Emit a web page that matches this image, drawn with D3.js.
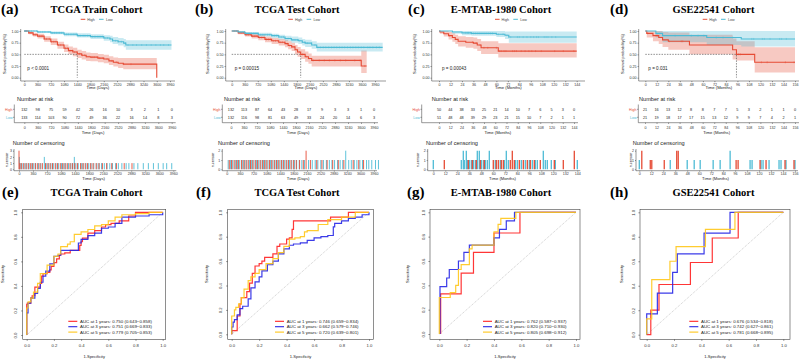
<!DOCTYPE html>
<html>
<head>
<meta charset="utf-8">
<script src="https://cdn.jsdelivr.net/npm/d3@7"></script>
<style>
  body { margin: 0; background: #fff; }
  svg { display: block; font-family: "Liberation Sans", Arial, sans-serif; }
  .ttl { font-family: "Liberation Serif", "Times New Roman", serif; font-weight: bold; }
</style>
</head>
<body>
<svg id="fig" width="800" height="361"></svg>
<script>
// ---- tick labels ----
var dayTicks = [0, 360, 720, 1080, 1440, 1800, 2160, 2520, 2880, 3240, 3600, 3960];
var month144Ticks = [0, 12, 24, 36, 48, 60, 72, 84, 96, 108, 120, 132, 144];
var month156Ticks = [0, 12, 24, 36, 48, 60, 72, 84, 96, 108, 120, 132, 144, 156];

// ---- KM curves: [time, survival, lower, upper] ----
var trainHigh = [[0,1,1,1],[120,.96,.93,.99],[240,.92,.88,.96],[360,.89,.84,.94],[540,.83,.77,.89],[720,.77,.70,.84],[900,.70,.62,.77],[1080,.63,.55,.71],[1200,.58,.50,.67],[1320,.55,.46,.64],[1440,.51,.42,.60],[1560,.48,.39,.57],[1680,.45,.36,.54],[1800,.44,.35,.53],[2000,.42,.33,.51],[2160,.40,.31,.49],[2300,.36,.27,.46],[2420,.33,.24,.43],[2550,.31,.21,.42],[2690,.29,.18,.42],[3600,0,0,0]];
var trainLow = [[0,1,1,1],[360,.98,.96,1],[720,.96,.93,.99],[1080,.93,.89,.97],[1440,.90,.86,.95],[1800,.88,.83,.93],[2160,.85,.79,.91],[2330,.83,.76,.90],[2400,.79,.72,.87],[2550,.77,.69,.85],[2700,.74,.65,.83],[2760,.70,.60,.80],[4000,.70,.60,.80]];
var testHigh = [[0,1,1,1],[180,.96,.93,.99],[367,.92,.88,.96],[550,.89,.84,.94],[735,.86,.80,.91],[920,.82,.76,.88],[1104,.79,.72,.85],[1300,.76,.69,.83],[1472,.73,.65,.81],[1560,.69,.61,.78],[1657,.66,.57,.75],[1750,.60,.50,.70],[1820,.55,.45,.66],[1906,.50,.40,.61],[2030,.45,.34,.56],[2120,.41,.30,.52],[2210,.37,.24,.47],[3580,.25,.10,.58],[3730,.25,.10,.58]];
var testLow = [[0,1,1,1],[180,.98,.96,1],[367,.95,.92,.98],[735,.92,.88,.96],[1104,.90,.85,.94],[1300,.87,.82,.92],[1472,.84,.78,.90],[1650,.81,.75,.88],[1840,.79,.72,.86],[1950,.76,.69,.83],[2030,.74,.66,.81],[2210,.70,.62,.78],[2350,.65,.56,.75],[4172,.65,.56,.75]];
var emtabHigh = [[0,1,1,1],[1,.98,.94,1],[5,.94,.88,1],[10,.90,.82,.98],[14,.86,.77,.95],[17,.82,.72,.92],[20,.78,.67,.89],[28,.76,.64,.87],[36,.74,.62,.86],[40,.70,.57,.83],[44,.64,.51,.78],[62,.57,.43,.74],[144,.57,.43,.74]];
var emtabLow = [[0,1,1,1],[14,.98,.94,1],[24,.96,.91,1],[34,.95,.90,1],[60,.93,.87,1],[69,.91,.83,.99],[73,.87,.75,.99],[144,.87,.75,.99]];
var gseHigh = [[0,1,1,1],[1.5,.95,.86,1],[8,.90,.78,1],[14,.86,.72,1],[18,.81,.66,.98],[24,.78,.60,.97],[46,.70,.50,.92],[91,.60,.39,.84],[95,.50,.37,.78],[114,.33,.11,.65],[156,.33,.11,.65]];
var gseLow = [[0,1,1,1],[11,.95,.86,1],[18,.90,.76,1],[64,.86,.70,1],[100,.83,.67,1],[156,.83,.67,1]];

// ---- numbers at risk ----
var trainRiskHigh = [132, 98, 75, 59, 42, 26, 16, 10, 3, 2, 1, 0];
var trainRiskLow = [133, 114, 103, 90, 72, 49, 36, 22, 16, 14, 8, 3];
var testRiskHigh = [132, 113, 87, 64, 43, 28, 17, 9, 3, 3, 1, 0];
var testRiskLow = [132, 116, 98, 81, 63, 49, 33, 24, 20, 14, 6, 3];
var emtabRiskHigh = [50, 44, 38, 33, 25, 21, 14, 10, 7, 6, 5, 3, 0];
var emtabRiskLow = [51, 48, 48, 39, 29, 23, 21, 15, 10, 7, 2, 1, 1];
var gseRiskHigh = [21, 16, 13, 12, 8, 8, 7, 7, 5, 3, 2, 1, 1, 0];
var gseRiskLow = [21, 19, 18, 17, 17, 15, 13, 12, 9, 9, 7, 4, 2, 1];

// ---- censoring: [time, n.censor] ----
var trainCensHigh = [[0,3],[20,1],[60,1],[120,1],[180,1],[240,1],[300,1],[350,1],[420,1],[480,1],[540,1],[600,1],[680,1],[740,1],[800,1],[860,1],[930,1],[990,1],[1060,1],[1120,1],[1180,1],[1240,1],[1310,1],[1370,1],[1430,1],[1500,1],[1580,1],[1640,1],[1700,1],[1760,1],[1840,1],[1900,1],[1980,1],[2050,1],[2140,1],[2250,1],[2380,1],[2500,1],[2700,1],[2900,1]];
var trainCensLow = [[10,2],[30,1],[80,1],[150,1],[200,1],[260,1],[330,1],[380,1],[430,1],[500,1],[560,1],[650,2],[700,1],[760,1],[820,1],[880,1],[950,1],[1010,1],[1090,1],[1150,1],[1200,1],[1270,1],[1330,1],[1380,1],[1420,2],[1460,1],[1520,1],[1600,1],[1650,1],[1720,1],[1790,1],[1850,1],[1920,1],[2000,1],[2060,1],[2120,1],[2190,1],[2260,1],[2330,1],[2400,1],[2480,1],[2550,1],[2640,1],[2750,1],[2820,1],[2950,1],[3050,1],[3190,1],[3320,1],[3450,1],[3575,1],[3700,1],[3790,1],[3920,1]];
var testCensHigh = [[70,1],[130,1],[200,1],[260,1],[320,1],[400,1],[460,1],[520,1],[580,1],[640,1],[700,1],[770,1],[830,1],[900,1],[960,1],[1020,1],[1080,1],[1150,1],[1210,1],[1280,1],[1340,1],[1400,1],[1470,1],[1530,1],[1600,1],[1660,1],[1730,1],[1800,1],[1870,1],[1960,1],[2060,1],[2134,2],[2250,1],[2420,1],[2560,1],[2700,1],[2850,1],[3000,1],[3150,1],[3400,1],[3550,1],[3680,1]];
var testCensLow = [[40,1],[100,1],[160,1],[230,1],[290,1],[350,1],[420,1],[480,1],[540,1],[610,1],[670,1],[730,1],[800,1],[860,1],[920,1],[990,1],[1050,1],[1110,1],[1180,1],[1240,1],[1300,1],[1370,1],[1430,1],[1490,1],[1560,1],[1620,1],[1690,1],[1750,1],[1820,1],[1880,1],[1950,1],[2020,1],[2090,1],[2200,1],[2300,1],[2380,1],[2450,1],[2530,1],[2600,1],[2680,1],[2760,1],[2830,1],[2900,1],[2980,1],[3050,1],[3120,1],[3200,2],[3280,1],[3350,1],[3430,1],[3500,1],[3580,1],[3650,1],[3760,1],[3820,1],[3900,1],[4000,1],[4080,1]];
var emtabCensHigh = [[11,1],[35,1],[39,1],[43,1],[47,1],[51,1],[60,1],[63,1],[65,1],[68,1],[70,1],[77,1],[79,2],[81,1],[86,1],[90,1],[94,1],[97,1],[101,1],[107,1],[121,1],[130,1],[141,2]];
var emtabCensLow = [[0,1],[28,1],[30,2],[31,1],[33,2],[34,1],[36,1],[38,1],[40,1],[42,1],[44,2],[46,2],[48,1],[50,1],[52,1],[54,1],[56,2],[62,1],[67,1],[71,1],[73,2],[75,1],[82,1],[84,1],[88,1],[92,1],[96,1],[99,1],[102,1],[104,1],[110,2],[112,1],[114,1],[118,1],[122,1],[144,1]];
var gseCensHigh = [[2.5,2],[11,1],[12.5,1],[25,1],[37.5,2],[39,2],[97,1],[99,1],[121,1],[127,1],[146,1],[155,1]];
var gseCensLow = [[0,1],[31,1],[48,1],[55,1],[61,1],[74,1],[81,1],[91,2],[111,1],[113,1],[122,1],[124,1],[130,1],[140,1],[142,1],[147,1],[156,1]];

// ---- ROC curves: [1-specificity, sensitivity] ----
var trainRoc1 = [[0,0],[0,.08],[.005,.25],[.03,.26],[.04,.3],[.06,.32],[.07,.39],[.1,.39],[.11,.42],[.12,.48],[.15,.5],[.17,.51],[.18,.53],[.2,.56],[.22,.59],[.24,.62],[.25,.65],[.28,.66],[.32,.67],[.35,.69],[.39,.69],[.4,.73],[.41,.76],[.45,.79],[.5,.83],[.55,.85],[.58,.88],[.62,.9],[.68,.91],[.75,.93],[.8,.97],[.85,1],[1,1]];
var trainRoc3 = [[0,0],[0,.13],[.01,.18],[.03,.26],[.06,.3],[.08,.34],[.1,.38],[.12,.43],[.14,.48],[.17,.52],[.2,.58],[.23,.64],[.25,.65],[.3,.69],[.38,.69],[.4,.75],[.45,.78],[.5,.81],[.55,.83],[.6,.87],[.65,.88],[.7,.91],[.8,.96],[.9,.97],[1,.98],[1,1]];
var trainRoc5 = [[0,0],[0,.12],[.01,.22],[.03,.27],[.05,.3],[.08,.35],[.1,.42],[.12,.5],[.15,.5],[.2,.57],[.23,.64],[.25,.66],[.3,.72],[.32,.74],[.35,.76],[.4,.82],[.45,.84],[.5,.86],[.55,.89],[.6,.9],[.65,.93],[.7,.96],[.8,.98],[.9,.99],[1,1]];
var testRoc1 = [[0,0],[.01,.03],[.04,.03],[.04,.1],[.06,.15],[.07,.25],[.08,.3],[.11,.3],[.13,.35],[.15,.42],[.17,.5],[.2,.56],[.22,.58],[.24,.6],[.27,.63],[.3,.63],[.33,.66],[.35,.72],[.37,.74],[.4,.74],[.42,.78],[.44,.79],[.45,.86],[.47,.93],[.55,.93],[.72,.93],[.85,.96],[.85,1],[1,1]];
var testRoc3 = [[0,0],[0,.05],[.01,.06],[.02,.1],[.04,.12],[.06,.16],[.08,.21],[.12,.23],[.14,.29],[.17,.38],[.2,.43],[.22,.47],[.26,.52],[.3,.57],[.34,.6],[.38,.66],[.42,.7],[.45,.73],[.5,.74],[.55,.75],[.6,.77],[.65,.79],[.7,.8],[.74,.81],[.75,.88],[.8,.91],[.85,.93],[.9,.95],[.95,.96],[1,.98],[1,1]];
var testRoc5 = [[0,0],[0,.05],[.02,.15],[.03,.2],[.05,.22],[.07,.25],[.09,.3],[.12,.37],[.14,.44],[.17,.47],[.2,.5],[.25,.53],[.3,.58],[.34,.62],[.38,.67],[.42,.72],[.46,.78],[.5,.79],[.53,.8],[.55,.84],[.6,.85],[.63,.85],[.63,.88],[.7,.9],[.8,.94],[.9,.96],[1,1]];
var emtabRoc1 = [[.01,0],[.01,.33],[.16,.33],[.16,.5],[.25,.5],[.25,.67],[.4,.67],[.4,.83],[.59,.83],[.59,1],[1,1]];
var emtabRoc3 = [[.005,0],[.005,.39],[.054,.39],[.054,.46],[.073,.46],[.073,.53],[.14,.53],[.14,.6],[.18,.6],[.18,.67],[.22,.67],[.22,.73],[.4,.73],[.4,.79],[.44,.79],[.44,.86],[.49,.86],[.49,.93],[.55,.93],[.55,1],[1,1]];
var emtabRoc5 = [[0,0],[0,.3],[.08,.3],[.08,.34],[.12,.34],[.12,.4],[.14,.4],[.14,.53],[.16,.53],[.16,.57],[.22,.57],[.22,.7],[.24,.7],[.24,.73],[.4,.73],[.4,.84],[.43,.84],[.43,.9],[.45,.9],[.45,.95],[.56,.95],[.56,1],[1,1]];
var gseRoc1 = [[0,0],[.03,0],[.03,.2],[.09,.2],[.09,.41],[.32,.41],[.32,.59],[.48,.59],[.48,.79],[.67,.79],[.67,1],[1,1]];
var gseRoc3 = [[0,0],[0,.17],[.078,.17],[.078,.34],[.19,.34],[.19,.51],[.224,.51],[.224,.66],[.42,.66],[.42,.83],[.61,.83],[.61,1],[1,1]];
var gseRoc5 = [[0,0],[0,.13],[.037,.13],[.037,.45],[.17,.45],[.17,.6],[.215,.6],[.215,.72],[.43,.72],[.43,.86],[.646,.86],[.646,1],[1,1]];

var trainAuc = ["0.750 (0.643\u22120.858)", "0.751 (0.669\u22120.833)", "0.779 (0.705\u22120.853)"];
var testAuc = ["0.746 (0.659\u22120.834)", "0.662 (0.579\u22120.746)", "0.720 (0.639\u22120.801)"];
var emtabAuc = ["0.762 (0.587\u22120.937)", "0.820 (0.710\u22120.930)", "0.805 (0.698\u22120.912)"];
var gseAuc = ["0.676 (0.534\u22120.818)", "0.742 (0.627\u22120.861)", "0.781 (0.668\u22120.895)"];
var aucYears = [1, 3, 5];

var RED = "#E64B35", CYAN = "#4DBBD5";
var rocCols = ["#FF2020", "#2626E6", "#FFC61A"];

var svg = d3.select("#fig");
var fmtInt = d3.format("d");

function txt(g, x, y, s, size, opts) {
  opts = opts || {};
  var t = g.append("text").attr("x", x).attr("y", y).attr("font-size", size).text(s)
    .attr("fill", opts.fill || "#222")
    .attr("text-anchor", opts.anchor || "start");
  if (opts.cls) t.attr("class", opts.cls);
  if (opts.rot) t.attr("transform", "rotate(-90," + x + "," + y + ")");
  return t;
}

function styleAxis(a, size) {
  a.attr("font-size", size).attr("font-family", null);
  a.selectAll("line").attr("stroke", "#333").attr("stroke-width", 0.5);
  a.selectAll("text").attr("fill", "#333");
  a.select(".domain").remove();
}

function survAt(curve, t) {
  var s = 1;
  curve.forEach(function(d) { if (d[0] <= t) s = d[1]; });
  return s;
}

// Kaplan-Meier block: curve, risk table, censoring plot
function drawKM(c) {
  var g = svg.append("g");
  var tmax = c.ticks[c.ticks.length - 1];

  txt(g, c.labelX, 14, c.label, 15, {cls: "ttl", fill: "#000"});
  txt(g, c.titleX, 13, c.title, 10.5, {cls: "ttl", fill: "#000", anchor: "middle"});

  // legend
  var lx = c.legendX;
  g.append("line").attr("x1", lx).attr("x2", lx + 4.6).attr("y1", 19.3).attr("y2", 19.3).attr("stroke", RED).attr("stroke-width", 1);
  txt(g, lx + 6.6, 20.6, "High", 3.6, {fill: "#444"});
  g.append("line").attr("x1", lx + 18.3).attr("x2", lx + 22.9).attr("y1", 19.3).attr("y2", 19.3).attr("stroke", CYAN).attr("stroke-width", 1);
  txt(g, lx + 25.3, 20.6, "Low", 3.6, {fill: "#444"});

  // survival curves
  var x = d3.scaleLinear().domain([0, tmax]).range([c.km.x0, c.km.x1]);
  var y = d3.scaleLinear().domain([0, 1]).range([77.7, 31]);
  var area = d3.area().curve(d3.curveStepAfter)
    .x(function(d) { return x(d[0]); })
    .y0(function(d) { return y(d[2]); })
    .y1(function(d) { return y(d[3]); });
  var line = d3.line().curve(d3.curveStepAfter)
    .x(function(d) { return x(d[0]); })
    .y(function(d) { return y(d[1]); });

  [[c.high, RED], [c.low, CYAN]].forEach(function(p) {
    g.append("path").attr("d", area(p[0])).attr("fill", p[1]).attr("fill-opacity", 0.3);
  });
  if (c.median != null) {
    g.append("path")
      .attr("d", "M" + x(0) + "," + y(0.5) + "H" + x(c.median) + "V" + y(0))
      .attr("fill", "none").attr("stroke", "#444").attr("stroke-width", 0.6).attr("stroke-dasharray", "1.5,1.2");
  }
  [[c.high, RED, c.censHigh], [c.low, CYAN, c.censLow]].forEach(function(p) {
    g.append("path").attr("d", line(p[0])).attr("fill", "none").attr("stroke", p[1]).attr("stroke-width", 1.1);
    g.selectAll(null).data(p[2].filter(function(d) { return d[0] > 0 && d[0] < p[0][p[0].length - 1][0]; }))
      .enter().append("line")
      .attr("x1", function(d) { return x(d[0]); }).attr("x2", function(d) { return x(d[0]); })
      .attr("y1", function(d) { return y(survAt(p[0], d[0])) - 1; })
      .attr("y2", function(d) { return y(survAt(p[0], d[0])) + 1; })
      .attr("stroke", p[1]).attr("stroke-width", 0.4);
  });

  g.append("line").attr("x1", c.km.axisX).attr("x2", c.km.axisX).attr("y1", 29).attr("y2", 81).attr("stroke", "#333").attr("stroke-width", 0.5);
  g.append("line").attr("x1", c.km.axisX).attr("x2", c.km.xEnd).attr("y1", 81).attr("y2", 81).attr("stroke", "#333").attr("stroke-width", 0.5);
  g.append("g").attr("transform", "translate(" + c.km.axisX + ",0)")
    .call(d3.axisLeft(y).tickValues([0, .25, .5, .75, 1]).tickFormat(d3.format(".2f")).tickSize(1.2).tickPadding(1))
    .call(styleAxis, 3.6);
  g.append("g").attr("transform", "translate(0,81)")
    .call(d3.axisBottom(x).tickValues(c.ticks).tickFormat(fmtInt).tickSize(1.2).tickPadding(1))
    .call(styleAxis, 3.6);
  txt(g, (c.km.axisX + c.km.xEnd) / 2, 89.3, "Time (" + c.unit + ")", 4.2, {anchor: "middle"});
  txt(g, c.survX, 54, "Survival probability(%)", 4, {anchor: "middle", rot: true});
  txt(g, c.km.x0 + 3, 69.5, c.pText, 4.6, {fill: "#222"});

  // number at risk table
  var xr = d3.scaleLinear().domain([0, tmax]).range([c.risk.x0, c.risk.x1]);
  txt(g, c.riskTitleX, 101, "Number at risk", 5.6, {});
  g.append("line").attr("x1", c.risk.axisX).attr("x2", c.risk.axisX).attr("y1", 104.5).attr("y2", 122.7).attr("stroke", "#333").attr("stroke-width", 0.5);
  g.append("line").attr("x1", c.risk.axisX).attr("x2", c.risk.x1 + 4).attr("y1", 122.7).attr("y2", 122.7).attr("stroke", "#333").attr("stroke-width", 0.5);
  [[c.riskHigh, "High", RED, 109.3], [c.riskLow, "Low", CYAN, 117.3]].forEach(function(r) {
    g.append("line").attr("x1", c.risk.axisX - 1.2).attr("x2", c.risk.axisX).attr("y1", r[3]).attr("y2", r[3]).attr("stroke", "#333").attr("stroke-width", 0.5);
    txt(g, c.risk.axisX - 1.8, r[3] + 1.3, r[1], 3.6, {fill: r[2], anchor: "end"});
    g.selectAll(null).data(r[0]).enter().append("text")
      .attr("x", function(d, i) { return xr(c.ticks[i]); })
      .attr("y", r[3] + 1.3)
      .attr("font-size", 3.8).attr("text-anchor", "middle").attr("fill", "#222")
      .text(function(d) { return d; });
  });
  g.append("g").attr("transform", "translate(0,122.7)")
    .call(d3.axisBottom(xr).tickValues(c.ticks).tickFormat(fmtInt).tickSize(1.2).tickPadding(2.2))
    .call(styleAxis, 3.6);
  txt(g, (c.risk.axisX + c.risk.x1) / 2, 134, "Time (" + c.unit + ")", 4.2, {anchor: "middle"});

  // number of censoring
  var xc = d3.scaleLinear().domain([0, tmax]).range([c.cens.x0, c.cens.x1]);
  var yc = d3.scaleLinear().domain([0, c.cens.max]).range([169.3, 150.7]);
  txt(g, c.censTitleX, 145, "Number of censoring", 5.6, {});
  [[c.censLow, CYAN], [c.censHigh, RED]].forEach(function(p) {
    g.selectAll(null).data(p[0]).enter().append("line")
      .attr("x1", function(d) { return xc(d[0]); }).attr("x2", function(d) { return xc(d[0]); })
      .attr("y1", yc(0)).attr("y2", function(d) { return yc(d[1]); })
      .attr("stroke", p[1]).attr("stroke-width", c.cens.bw);
  });
  g.append("line").attr("x1", c.cens.axisX).attr("x2", c.cens.axisX).attr("y1", 149).attr("y2", 170.7).attr("stroke", "#333").attr("stroke-width", 0.5);
  g.append("line").attr("x1", c.cens.axisX).attr("x2", c.cens.x1 + 3).attr("y1", 170.7).attr("y2", 170.7).attr("stroke", "#333").attr("stroke-width", 0.5);
  g.append("g").attr("transform", "translate(" + c.cens.axisX + ",0)")
    .call(d3.axisLeft(yc).tickValues(d3.range(0, c.cens.max + 1)).tickFormat(fmtInt).tickSize(1).tickPadding(1))
    .call(styleAxis, 3.6);
  g.append("g").attr("transform", "translate(0,170.7)")
    .call(d3.axisBottom(xc).tickValues(c.ticks).tickFormat(fmtInt).tickSize(1).tickPadding(0.6))
    .call(styleAxis, 3.6);
  txt(g, (c.cens.axisX + c.cens.x1) / 2, 180, "Time (" + c.unit + ")", 4.2, {anchor: "middle"});
  txt(g, c.ncensX, 160, "n.censor", 3.8, {anchor: "middle", rot: true});
}

// time-dependent ROC block
function drawROC(c) {
  var g = svg.append("g");
  txt(g, c.labelX, 197, c.label, 15, {cls: "ttl", fill: "#000"});
  txt(g, c.titleX, 196, c.title, 10.5, {cls: "ttl", fill: "#000", anchor: "middle"});

  var x = d3.scaleLinear().domain([0, 1]).range([c.x0, c.x1]);
  var y = d3.scaleLinear().domain([0, 1]).range([c.y0, 212.3]);

  g.append("rect").attr("x", c.box[0]).attr("y", 209.3).attr("width", c.box[1] - c.box[0]).attr("height", 130)
    .attr("fill", "none").attr("stroke", "#444").attr("stroke-width", 0.6);
  g.append("line").attr("x1", x(0)).attr("y1", y(0)).attr("x2", x(1)).attr("y2", y(1))
    .attr("stroke", "#999").attr("stroke-width", 0.5).attr("stroke-dasharray", "1,1");

  var line = d3.line().curve(d3.curveStepBefore)
    .x(function(d) { return x(d[0]); })
    .y(function(d) { return y(d[1]); });
  c.curves.forEach(function(cv, i) {
    g.append("path").attr("d", line(cv)).attr("fill", "none")
      .attr("stroke", rocCols[i]).attr("stroke-width", 1.2).attr("stroke-opacity", 0.9);
  });

  var ticks = [0, .2, .4, .6, .8, 1];
  g.append("g").attr("transform", "translate(0,339.3)")
    .call(d3.axisBottom(x).tickValues(ticks).tickFormat(d3.format(".1f")).tickSize(1.6).tickPadding(3))
    .call(styleAxis, 4.2);
  var ya = g.append("g").attr("transform", "translate(" + c.box[0] + ",0)")
    .call(d3.axisLeft(y).tickValues(ticks).tickFormat(d3.format(".1f")).tickSize(1.6).tickPadding(3))
    .call(styleAxis, 4.2);
  // R draws y labels parallel to the axis
  ya.selectAll(".tick text")
    .attr("text-anchor", "middle").attr("dy", null)
    .attr("transform", "rotate(-90)").attr("x", 0).attr("y", -5.5);
  txt(g, (c.box[0] + c.box[1]) / 2, 357.5, "1-Specificity", 4, {anchor: "middle"});
  txt(g, c.sensX, 274, "Sensitivity", 4, {anchor: "middle", rot: true});

  // legend
  aucYears.forEach(function(yr, i) {
    var ly = 321.3 + i * 5.4;
    g.append("line").attr("x1", c.legX).attr("x2", c.legX + 9).attr("y1", ly).attr("y2", ly)
      .attr("stroke", rocCols[i]).attr("stroke-width", 1.1);
    txt(g, c.legX + 11.7, ly + 1.5, "AUC at " + yr + " years:  " + c.auc[i], 4.4, {fill: "#222"});
  });
}

drawKM({label: "(a)", labelX: 1, title: "TCGA Train Cohort", titleX: 96.5, legendX: 80.7, unit: "Days", ticks: dayTicks,
  high: trainHigh, low: trainLow, median: 1440, pText: "p < 0.0001",
  km: {axisX: 20.7, x0: 24.3, x1: 170, xEnd: 175}, survX: 5.5,
  risk: {axisX: 14.3, x0: 24.3, x1: 171.7}, riskTitleX: 17, riskHigh: trainRiskHigh, riskLow: trainRiskLow,
  cens: {axisX: 14, x0: 19, x1: 173.3, max: 3, bw: 0.9}, censTitleX: 12.7, ncensX: 8, censHigh: trainCensHigh, censLow: trainCensLow});
drawKM({label: "(b)", labelX: 195, title: "TCGA Test Cohort", titleX: 297, legendX: 288.3, unit: "Days", ticks: dayTicks,
  high: testHigh, low: testLow, median: 1906, pText: "p = 0.00015",
  km: {axisX: 225.7, x0: 231.7, x1: 375, xEnd: 386}, survX: 209,
  risk: {axisX: 222.3, x0: 231, x1: 374}, riskTitleX: 224, riskHigh: testRiskHigh, riskLow: testRiskLow,
  cens: {axisX: 222.3, x0: 226.7, x1: 374, max: 2, bw: 0.9}, censTitleX: 218, ncensX: 214, censHigh: testCensHigh, censLow: testCensLow});
drawKM({label: "(c)", labelX: 408, title: "E-MTAB-1980 Cohort", titleX: 501, legendX: 495, unit: "Months", ticks: month144Ticks,
  high: emtabHigh, low: emtabLow, median: null, pText: "p = 0.00043",
  km: {axisX: 431.7, x0: 439, x1: 576.7, xEnd: 585}, survX: 416,
  risk: {axisX: 421.7, x0: 439, x1: 574}, riskTitleX: 431.7, riskHigh: emtabRiskHigh, riskLow: emtabRiskLow,
  cens: {axisX: 427.7, x0: 433.3, x1: 577.3, max: 2, bw: 1.3}, censTitleX: 426, ncensX: 419, censHigh: emtabCensHigh, censLow: emtabCensLow});
drawKM({label: "(d)", labelX: 610, title: "GSE22541 Cohort", titleX: 713.5, legendX: 702.7, unit: "Months", ticks: month156Ticks,
  high: gseHigh, low: gseLow, median: 95, pText: "p = 0.031",
  km: {axisX: 638.7, x0: 645.3, x1: 795, xEnd: 799}, survX: 624,
  risk: {axisX: 638.3, x0: 645, x1: 795}, riskTitleX: 639, riskHigh: gseRiskHigh, riskLow: gseRiskLow,
  cens: {axisX: 636, x0: 639.3, x1: 795, max: 2, bw: 1.3}, censTitleX: 632.7, ncensX: 632, censHigh: gseCensHigh, censLow: gseCensLow});

drawROC({label: "(e)", labelX: 2, title: "TCGA Train Cohort", titleX: 96.5, box: [22.7, 165.7], x0: 26.7, x1: 162.7, y0: 335,
  sensX: 3.5, legX: 68.3, curves: [trainRoc1, trainRoc3, trainRoc5], auc: trainAuc});
drawROC({label: "(f)", labelX: 196, title: "TCGA Test Cohort", titleX: 297, box: [227.7, 373.3], x0: 231.7, x1: 369, y0: 334.3,
  sensX: 207.5, legX: 275, curves: [testRoc1, testRoc3, testRoc5], auc: testAuc});
drawROC({label: "(g)", labelX: 407, title: "E-MTAB-1980 Cohort", titleX: 501, box: [430, 580], x0: 439.3, x1: 576, y0: 334,
  sensX: 409, legX: 483, curves: [emtabRoc1, emtabRoc3, emtabRoc5], auc: emtabAuc});
drawROC({label: "(h)", labelX: 610, title: "GSE22541 Cohort", titleX: 713.5, box: [640, 790], x0: 646.7, x1: 783.3, y0: 334.7,
  sensX: 622.5, legX: 689.3, curves: [gseRoc1, gseRoc3, gseRoc5], auc: gseAuc});
</script>
</body>
</html>
